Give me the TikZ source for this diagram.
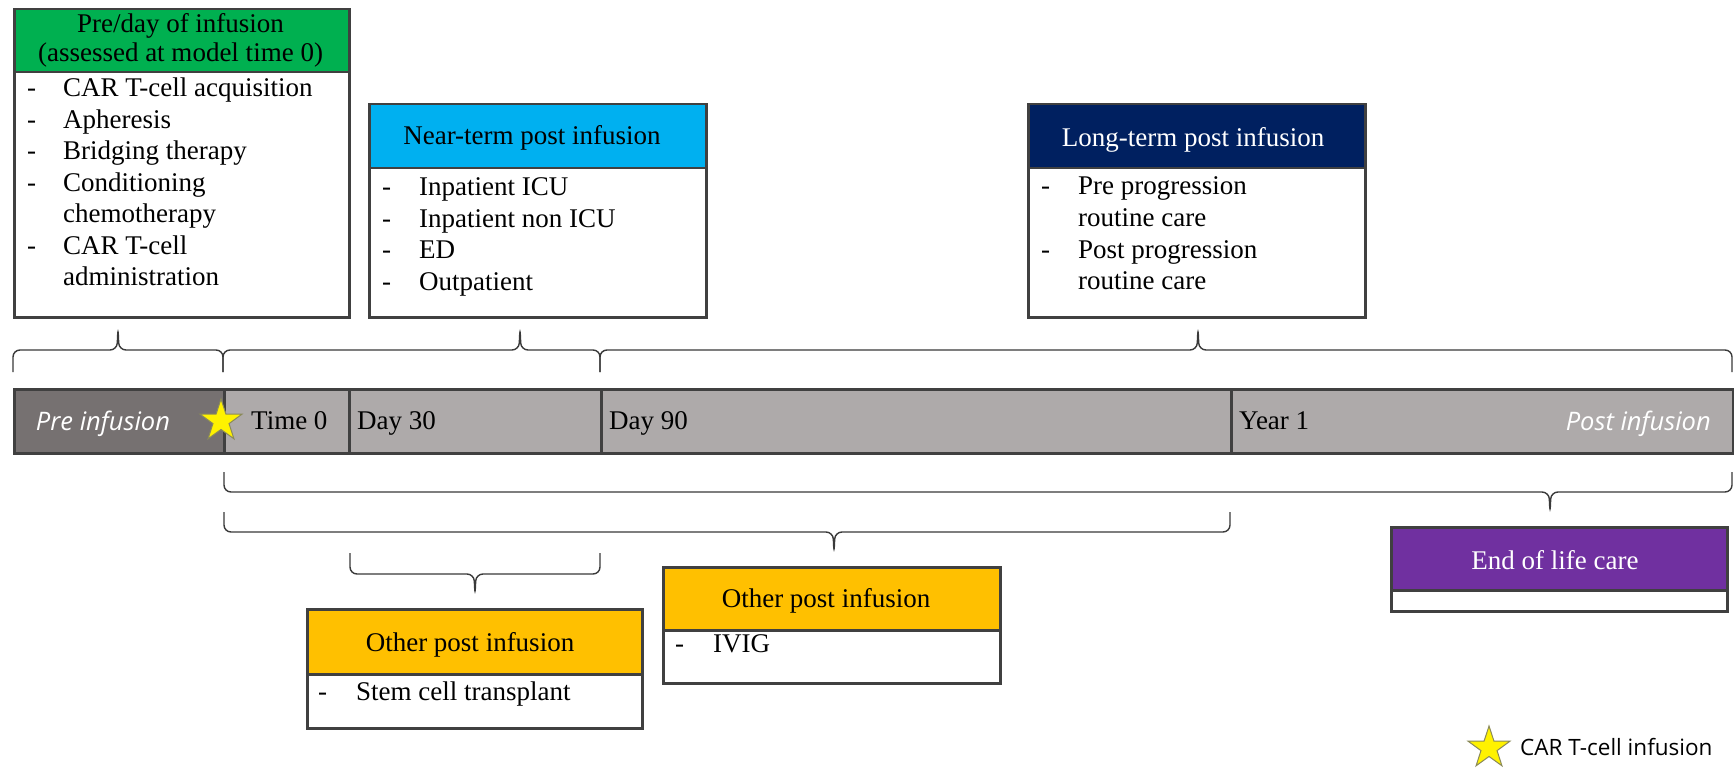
\documentclass[tikz,border=0pt]{standalone}
\usepackage{fontspec}
\setmainfont{Liberation Serif}
\newfontfamily\osans{Open Sans}
\usetikzlibrary{shapes.geometric}
\definecolor{bordergray}{HTML}{404040}
\definecolor{bracegray}{HTML}{3A3A3A}
\definecolor{hgreen}{HTML}{00B050}
\definecolor{hblue}{HTML}{00B0F0}
\definecolor{hnavy}{HTML}{002060}
\definecolor{hyellow}{HTML}{FFC000}
\definecolor{hpurple}{HTML}{7030A0}
\definecolor{tldark}{HTML}{767171}
\definecolor{tllight}{HTML}{AEAAAA}
\definecolor{starline}{HTML}{8A8A5A}
\begin{document}
\begin{tikzpicture}[x=1pt,y=-1pt,
  every node/.style={font=\fontsize{27}{31.5}\selectfont},
  boxpart/.style={draw=bordergray, line width=2.5pt, rectangle, anchor=north west, inner sep=0pt},
  hdrtext/.style={anchor=base, inner sep=0pt, align=center},
  bodytext/.style={anchor=base west, inner sep=0pt},
  seg/.style={draw=bordergray, line width=2.5pt, rectangle, anchor=north west, inner sep=0pt, minimum height=64pt, fill=tllight},
  seglabel/.style={anchor=base west, inner sep=0pt},
  itlabel/.style={inner sep=0pt, text=white, font=\osans\itshape\fontsize{25.5}{30}\selectfont},
  brc/.style={draw=bracegray, line width=1.4pt, rounded corners=7pt},
  starmark/.style={star, star points=5, star point ratio=2.6, minimum size=44pt, inner sep=0pt, fill=yellow, draw=starline, line width=1pt}
]
\fill[white] (0,0) rectangle (1734,770);
\useasboundingbox (0,0) rectangle (1734,770);

% ---------- Pre/day of infusion box ----------
\node[boxpart, fill=white, minimum width=335pt, minimum height=245pt] (gbody) at (13,71) {};
\node[boxpart, fill=hgreen, minimum width=335pt, minimum height=63pt] (ghead) at (13,8) {};
\node[hdrtext] (ght) at (180.5,33) {Pre/day of infusion};
\node[hdrtext] (ght2) at (180.5,62) {(assessed at model time 0)};
\node[bodytext] (gtxt) at (27,97) {\begin{tabular}[t]{@{}p{36pt}@{}l@{}}
-&CAR T-cell acquisition\\
-&Apheresis\\
-&Bridging therapy\\
-&Conditioning\\
&chemotherapy\\
-&CAR T-cell\\
&administration
\end{tabular}};

% ---------- Near-term box ----------
\node[boxpart, fill=white, minimum width=337pt, minimum height=149pt] (bbody) at (368,167) {};
\node[boxpart, fill=hblue, minimum width=337pt, minimum height=64pt] (bhead) at (368,103) {};
\node[hdrtext] (bht) at (532,145) {Near-term post infusion};
\node[bodytext] (btxt) at (382,196) {\begin{tabular}[t]{@{}p{37pt}@{}l@{}}
-&Inpatient ICU\\
-&Inpatient non ICU\\
-&ED\\
-&Outpatient
\end{tabular}};

% ---------- Long-term box ----------
\node[boxpart, fill=white, minimum width=337pt, minimum height=149pt] (nbody) at (1027,167) {};
\node[boxpart, fill=hnavy, minimum width=337pt, minimum height=64pt] (nhead) at (1027,103) {};
\node[hdrtext, text=white] (nht) at (1193,147) {Long-term post infusion};
\node[bodytext] (ntxt) at (1041,195) {\begin{tabular}[t]{@{}p{37pt}@{}l@{}}
-&Pre progression\\
&routine care\\
-&Post progression\\
&routine care
\end{tabular}};

% ---------- Timeline ----------
\node[seg, fill=tldark, minimum width=210pt] (tpre) at (13,388) {};
\node[seg, minimum width=125pt] (t0) at (223,388) {};
\node[seg, minimum width=252pt] (t30) at (348,388) {};
\node[seg, minimum width=630pt] (t90) at (600,388) {};
\node[seg, minimum width=502pt] (ty1) at (1230,388) {};
\node[itlabel, anchor=base] (lpre) at (103,430) {Pre infusion};
\node[itlabel, anchor=base east] (lpost) at (1711,430) {Post infusion};
\node[seglabel] (l0) at (251,429) {Time 0};
\node[seglabel] (l30) at (357,429) {Day 30};
\node[seglabel] (l90) at (609,429) {Day 90};
\node[seglabel] (ly1) at (1239,429) {Year 1};
\node[starmark] (star1) at (221,421) {};

% ---------- Braces above timeline ----------
\draw[brc] (13,372) -- (13,350) -- (117,350) -- (118,328) -- (119,350) -- (223,350) -- (223,372);
\draw[brc] (223,372) -- (223,350) -- (519,350) -- (520,328) -- (521,350) -- (600,350) -- (600,372);
\draw[brc] (600,372) -- (600,350) -- (1197,350) -- (1198,328) -- (1199,350) -- (1732,350) -- (1732,372);

% ---------- Braces below timeline ----------
\draw[brc] (224,472) -- (224,492) -- (1549,492) -- (1550,513) -- (1551,492) -- (1732,492) -- (1732,472);
\draw[brc] (224,512) -- (224,532) -- (833,532) -- (834,553) -- (835,532) -- (1230,532) -- (1230,512);
\draw[brc] (350,553) -- (350,574) -- (474,574) -- (475,595) -- (476,574) -- (600,574) -- (600,553);

% ---------- Other post infusion (stem cell) ----------
\node[boxpart, fill=white, minimum width=335pt, minimum height=54pt] (sbody) at (306,673) {};
\node[boxpart, fill=hyellow, minimum width=335pt, minimum height=65pt] (shead) at (306,608) {};
\node[hdrtext] (sht) at (470,651) {Other post infusion};
\node[bodytext] (stxt) at (318,700) {\begin{tabular}[t]{@{}p{38pt}@{}l@{}}
-&Stem cell transplant
\end{tabular}};

% ---------- Other post infusion (IVIG) ----------
\node[boxpart, fill=white, minimum width=337pt, minimum height=53pt] (ibody) at (662,629) {};
\node[boxpart, fill=hyellow, minimum width=337pt, minimum height=63pt] (ihead) at (662,566) {};
\node[hdrtext] (iht) at (826,607) {Other post infusion};
\node[bodytext] (itxt) at (675,652) {\begin{tabular}[t]{@{}p{38pt}@{}l@{}}
-&IVIG
\end{tabular}};

% ---------- End of life care ----------
\node[boxpart, fill=white, minimum width=336pt, minimum height=21pt] (ebody) at (1390,589) {};
\node[boxpart, fill=hpurple, minimum width=336pt, minimum height=63pt] (ehead) at (1390,526) {};
\node[hdrtext, text=white] (eht) at (1555,569) {End of life care};

% ---------- Legend ----------
\node[starmark] (star2) at (1489,748) {};
\node[anchor=base west, inner sep=0pt, font=\osans\fontsize{22.5}{26}\selectfont] (legtxt) at (1520,755) {CAR T-cell infusion};
\end{tikzpicture}
\end{document}
